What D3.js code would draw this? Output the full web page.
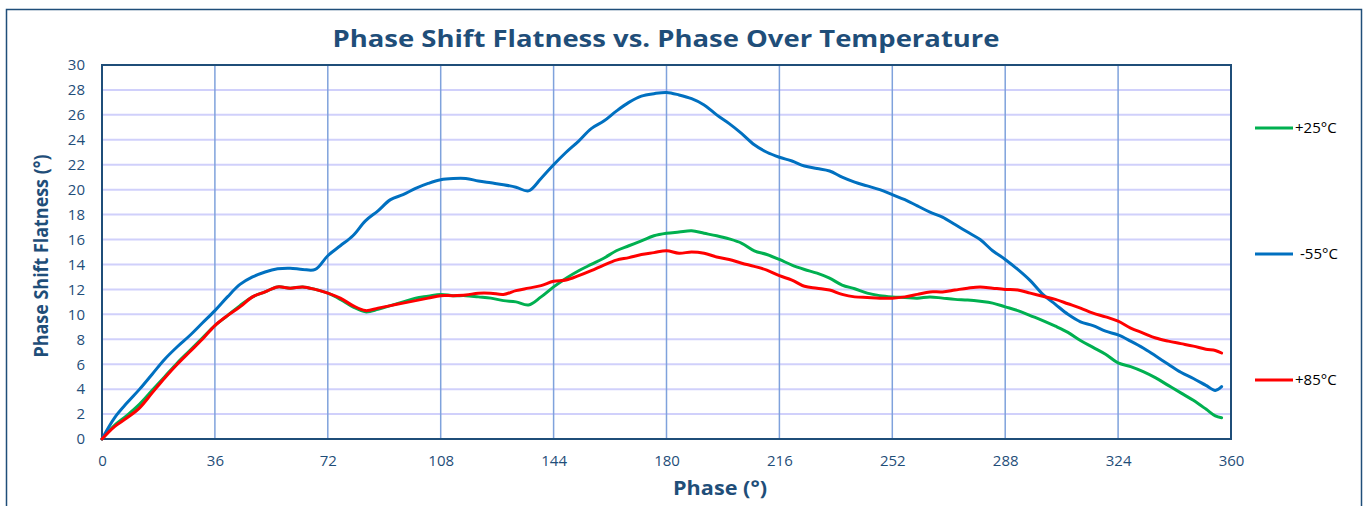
<!DOCTYPE html>
<html>
<head>
<meta charset="utf-8">
<script src="https://cdn.jsdelivr.net/npm/d3@7"></script>
<style>
  html, body { margin: 0; padding: 0; background: #fff; }
  body { font-family: 'Open Sans', 'DejaVu Sans', sans-serif; }
  .tick text { fill: #1f4e79; font-size: 15px; }
</style>
<title>Phase Shift Flatness</title>
</head>
<body>
<svg id="chart" width="1366" height="506"></svg>
<script>
// phase points (degrees)
var phase = [0, 4, 8, 12, 16, 20, 24, 28, 32, 36, 40, 44, 48, 52, 56, 60, 64, 68, 72, 76,
  80, 84, 88, 92, 96, 100, 104, 108, 112, 116, 120, 124, 128, 132, 136, 140, 144, 148, 152, 156,
  160, 164, 168, 172, 176, 180, 184, 188, 192, 196, 200, 204, 208, 212, 216, 220, 224, 228, 232, 236,
  240, 244, 248, 252, 256, 260, 264, 268, 272, 276, 280, 284, 288, 292, 296, 300, 304, 308, 312, 316,
  320, 324, 328, 332, 336, 340, 344, 348, 352, 355, 357];

// +25°C
var t25 = [0, 1.1, 1.9, 2.8, 3.9, 5.0, 6.1, 7.1, 8.1, 9.1, 9.9, 10.7, 11.4, 11.8, 12.2, 12.1, 12.2, 12.0, 11.7, 11.2,
  10.6, 10.2, 10.4, 10.7, 11.0, 11.3, 11.45, 11.6, 11.5, 11.5, 11.4, 11.3, 11.1, 11.0, 10.75, 11.4, 12.2, 12.9, 13.5, 14.0,
  14.5, 15.1, 15.5, 15.9, 16.3, 16.5, 16.6, 16.7, 16.5, 16.3, 16.05, 15.7, 15.1, 14.8, 14.4, 13.95, 13.6, 13.3, 12.9, 12.35,
  12.05, 11.7, 11.5, 11.4, 11.35, 11.3, 11.4, 11.3, 11.2, 11.15, 11.05, 10.9, 10.6, 10.3, 9.9, 9.5, 9.05, 8.55, 7.9, 7.35,
  6.8, 6.1, 5.8, 5.4, 4.9, 4.3, 3.7, 3.1, 2.4, 1.85, 1.7];

// -55°C
var tm55 = [0, 1.7, 2.9, 4.0, 5.2, 6.4, 7.4, 8.3, 9.3, 10.3, 11.4, 12.4, 13.0, 13.4, 13.65, 13.7, 13.6, 13.6, 14.7, 15.5,
  16.3, 17.5, 18.3, 19.2, 19.6, 20.1, 20.5, 20.8, 20.9, 20.9, 20.7, 20.55, 20.4, 20.2, 19.9, 20.9, 22.0, 23.0, 23.9, 24.9,
  25.5, 26.3, 27.0, 27.5, 27.7, 27.8, 27.6, 27.3, 26.8, 26.0, 25.3, 24.5, 23.6, 23.0, 22.6, 22.3, 21.9, 21.7, 21.5, 21.0,
  20.6, 20.3, 20.0, 19.6, 19.2, 18.7, 18.2, 17.8, 17.2, 16.6, 16.0, 15.1, 14.4, 13.6, 12.7, 11.6, 10.8, 10.0, 9.4, 9.1,
  8.65, 8.35, 7.85, 7.3, 6.65, 6.0, 5.35, 4.85, 4.3, 3.9, 4.2];

// +85°C
var t85 = [0, 1.0, 1.7, 2.5, 3.7, 4.9, 6.0, 7.0, 8.0, 9.1, 9.9, 10.6, 11.4, 11.8, 12.2, 12.1, 12.2, 12.0, 11.7, 11.3,
  10.7, 10.3, 10.5, 10.7, 10.9, 11.1, 11.3, 11.5, 11.5, 11.55, 11.7, 11.7, 11.6, 11.9, 12.1, 12.3, 12.65, 12.75, 13.1, 13.5,
  13.95, 14.35, 14.55, 14.8, 14.95, 15.1, 14.9, 15.0, 14.9, 14.6, 14.4, 14.1, 13.85, 13.55, 13.1, 12.75, 12.25, 12.1, 11.95, 11.6,
  11.4, 11.35, 11.3, 11.3, 11.4, 11.6, 11.8, 11.8, 11.95, 12.1, 12.2, 12.1, 12.0, 11.95, 11.7, 11.45, 11.2, 10.85, 10.5, 10.1,
  9.8, 9.45, 8.9, 8.5, 8.1, 7.85, 7.65, 7.45, 7.2, 7.1, 6.9];

var seriesNames = ["+25°C", "-55°C", "+85°C"];
var seriesColors = ["#00b050", "#0070c0", "#ff0000"];
var seriesValues = [t25, tm55, t85];

var xTicks = [0, 36, 72, 108, 144, 180, 216, 252, 288, 324, 360];
var yTicks = [0, 2, 4, 6, 8, 10, 12, 14, 16, 18, 20, 22, 24, 26, 28, 30];

var titleColor = "#1f4e79";

var svg = d3.select("#chart");

// plot area
var plot = { left: 102, right: 1231, top: 65, bottom: 439 };

var x = d3.scaleLinear().domain([0, 360]).range([plot.left, plot.right]);
var y = d3.scaleLinear().domain([0, 30]).range([plot.bottom, plot.top]);

// outer chart border
svg.append("rect")
    .attr("x", 6.5).attr("y", 9.5)
    .attr("width", 1355).attr("height", 510)
    .attr("fill", "none")
    .attr("stroke", titleColor)
    .attr("stroke-width", 1.5);

// title
svg.append("text")
    .attr("x", 666)
    .attr("y", 47)
    .attr("text-anchor", "middle")
    .attr("font-size", 24)
    .attr("font-weight", "bold")
    .attr("fill", titleColor)
    .attr("textLength", 667)
    .attr("lengthAdjust", "spacingAndGlyphs")
    .text("Phase Shift Flatness vs. Phase Over Temperature");

// horizontal grid
svg.append("g")
    .selectAll("line")
    .data(yTicks.slice(1, -1))
    .enter().append("line")
    .attr("x1", plot.left).attr("x2", plot.right)
    .attr("y1", function(d) { return y(d); })
    .attr("y2", function(d) { return y(d); })
    .attr("stroke", "#d0d0fb")
    .attr("stroke-width", 2);

// vertical grid
svg.append("g")
    .selectAll("line")
    .data(xTicks.slice(1, -1))
    .enter().append("line")
    .attr("x1", function(d) { return x(d); })
    .attr("x2", function(d) { return x(d); })
    .attr("y1", plot.top).attr("y2", plot.bottom)
    .attr("stroke", "#7fa2dc")
    .attr("stroke-width", 1.5);

// axes (labels only)
var xAxis = svg.append("g")
    .attr("transform", "translate(0," + (plot.bottom + 12) + ")")
    .call(d3.axisBottom(x).tickValues(xTicks).tickSize(0).tickPadding(4));
xAxis.select(".domain").remove();

var yAxis = svg.append("g")
    .attr("transform", "translate(" + (plot.left - 13) + ",0)")
    .call(d3.axisLeft(y).tickValues(yTicks).tickSize(0).tickPadding(4));
yAxis.select(".domain").remove();
svg.selectAll(".tick text")
    .attr("font-family", "'Open Sans', sans-serif")
    .attr("font-size", 15);

// plot frame
svg.append("rect")
    .attr("x", plot.left).attr("y", plot.top)
    .attr("width", plot.right - plot.left)
    .attr("height", plot.bottom - plot.top)
    .attr("fill", "none")
    .attr("stroke", titleColor)
    .attr("stroke-width", 2);

// series lines
var line = d3.line()
    .x(function(d, i) { return x(phase[i]); })
    .y(function(d) { return y(d); })
    .curve(d3.curveCatmullRom);

svg.append("g")
    .selectAll("path")
    .data(seriesValues)
    .enter().append("path")
    .attr("d", line)
    .attr("fill", "none")
    .attr("stroke", function(d, i) { return seriesColors[i]; })
    .attr("stroke-width", 3)
    .attr("stroke-linejoin", "round")
    .attr("stroke-linecap", "round");

// axis titles
svg.append("text")
    .attr("x", 720)
    .attr("y", 495)
    .attr("text-anchor", "middle")
    .attr("font-size", 20)
    .attr("font-weight", "bold")
    .attr("fill", titleColor)
    .attr("textLength", 94)
    .attr("lengthAdjust", "spacingAndGlyphs")
    .text("Phase (°)");

svg.append("text")
    .attr("transform", "translate(48,256) rotate(-90)")
    .attr("text-anchor", "middle")
    .attr("font-size", 20)
    .attr("font-weight", "bold")
    .attr("fill", titleColor)
    .attr("textLength", 203)
    .attr("lengthAdjust", "spacingAndGlyphs")
    .text("Phase Shift Flatness (°)");

// legend
var legendY = [128, 254, 380];
var legend = svg.append("g")
    .selectAll("g")
    .data(seriesNames)
    .enter().append("g")
    .attr("transform", function(d, i) { return "translate(1255," + legendY[i] + ")"; });

legend.append("line")
    .attr("x1", 0).attr("x2", 38)
    .attr("stroke", function(d, i) { return seriesColors[i]; })
    .attr("stroke-width", 3);

legend.append("text")
    .attr("x", function(d) { return d.charAt(0) == "-" ? 45 : 40; })
    .attr("y", 5)
    .attr("font-size", 15)
    .attr("fill", "#000")
    .text(function(d) { return d; });
</script>
</body>
</html>
